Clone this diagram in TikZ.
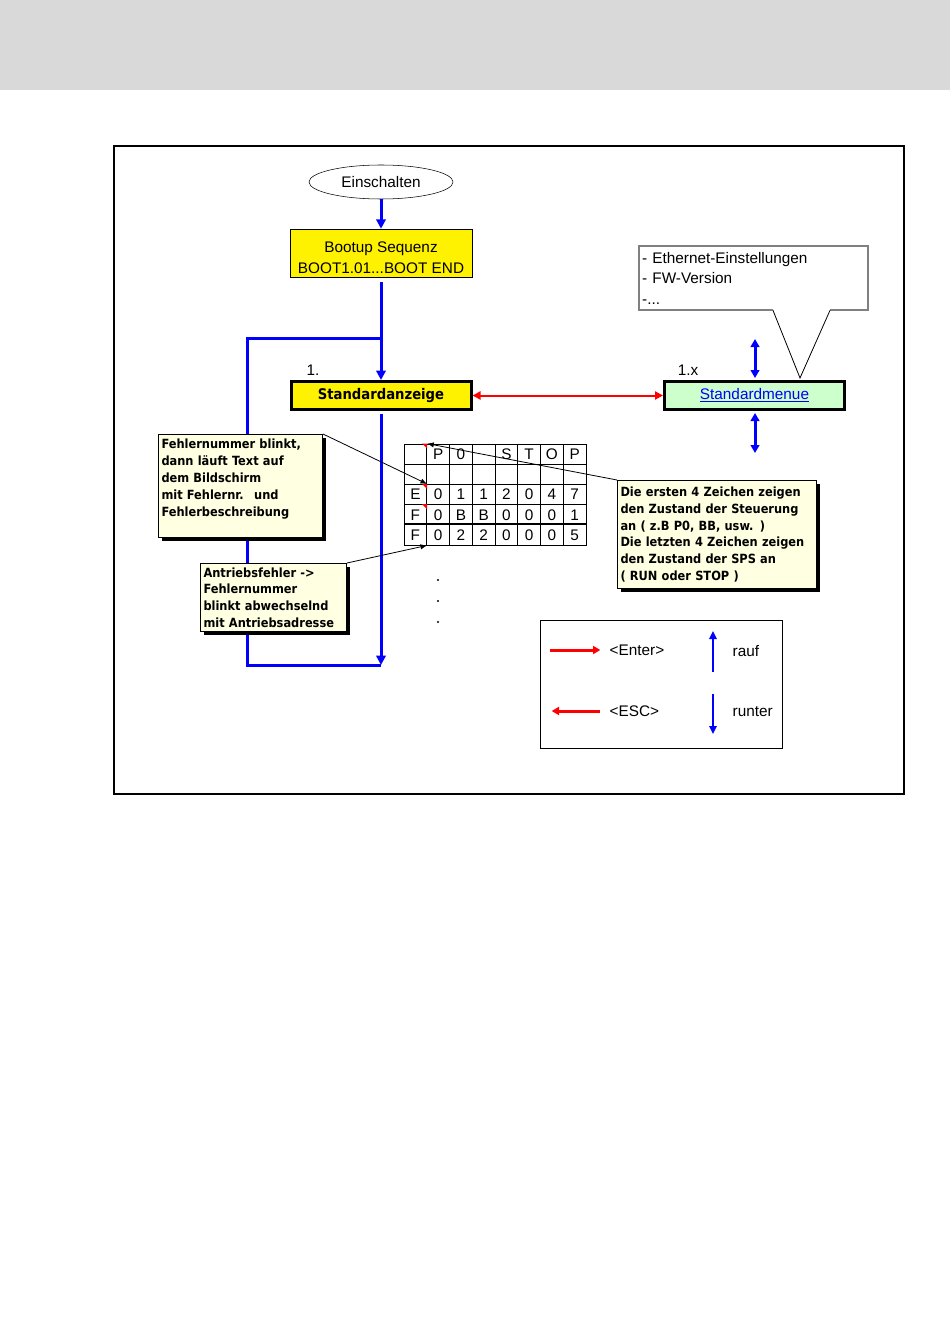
\documentclass[tikz,border=0pt]{standalone}
\usepackage{fontspec}
\setmainfont{Liberation Sans}
\newfontfamily\notefont{DejaVu Sans Condensed}
\usetikzlibrary{arrows.meta,shapes.geometric,shadows}
\definecolor{band}{RGB}{217,217,217}
\definecolor{noteyellow}{RGB}{255,255,225}
\definecolor{menugreen}{RGB}{204,255,204}

\begin{document}
\begin{tikzpicture}[x=0.75pt,y=-0.75pt,
  font=\fontsize{11.5}{13.8}\selectfont,
  flow/.style={blue,line width=2.25pt},
  flowarrow/.style={flow,-{Triangle[length=7pt,width=7pt]}},
  updown/.style={blue,line width=2.25pt,{Triangle[length=6pt,width=6.5pt]}-{Triangle[length=6pt,width=6.5pt]}},
  redarrow/.style={red,line width=1.5pt,{Triangle[length=6pt,width=6pt]}-{Triangle[length=6pt,width=6pt]}},
  statebox/.style={draw,line width=2.25pt,minimum width=135pt,minimum height=21pt,inner sep=0pt},
  note/.style={draw,fill=noteyellow,line width=0.75pt,anchor=north west,align=left,inner sep=2.25pt,
    font=\notefont\bfseries\fontsize{9.5}{12.6}\selectfont,
    drop shadow={shadow xshift=2.25pt,shadow yshift=-2.25pt,fill=black,opacity=1}},
  pointer/.style={black,line width=0.6pt,-{Latex[length=5pt,width=4pt]}},
  cell/.style={draw,line width=0.6pt,minimum width=17.06pt,minimum height=15.15pt,inner sep=0pt,text height=8.2pt,text depth=0pt},
  keyred/.style={red,line width=2.25pt,-{Triangle[length=5.5pt,width=6pt]}},
  keyblue/.style={blue,line width=1.5pt,-{Triangle[length=6pt,width=5.5pt]}}]
\useasboundingbox (0,0) rectangle (950,1344);
\fill[band] (0,0) rectangle (950,90);
\draw[line width=1.1pt] (114,146) rectangle (904,794);

\node[ellipse,draw,minimum width=108pt,minimum height=25.5pt,inner sep=0pt] (on) at (381,182) {Einschalten};
\node[draw,fill=yellow,minimum width=136.5pt,minimum height=36pt,inner sep=0pt] (boot) at (381,253) {};
\node[align=center,inner sep=0pt,font=\fontsize{11.5}{15.75}\selectfont] (boottext) at (381,258) {Bootup Sequenz\\BOOT1.01...BOOT END};
\node[statebox,fill=yellow,font=\notefont\bfseries\fontsize{11}{13}\selectfont] (anz) at (381,395.5) {Standardanzeige};
\node[statebox,fill=menugreen] (menu) at (754.5,395.5) {{\color{blue}\underline{Standardmenue}}};
\node (n1) at (313,370) {1.};
\node (n1x) at (688,370) {1.x};

\coordinate (ltop) at (247,338);
\coordinate (lbot) at (247,665);
\draw[flowarrow] (on.south) -- (boot.north);
\draw[flow] (ltop -| anz.north) -- (ltop) -- (lbot) -- (lbot -| anz.south);
\draw[flowarrow] ([yshift=-3.75pt]boot.south) -- (anz.north);
\draw[flowarrow] ([yshift=-2pt]anz.south) -- (anz.south |- lbot);
\draw[redarrow] (anz.east) -- (menu.west);

\coordinate (mup) at (755,339);
\coordinate (mdn) at (755,453);
\draw[updown] (mup) -- ([yshift=1.5pt]menu.north -| mup);
\draw[updown] (mdn) -- ([yshift=-1.5pt]menu.south -| mdn);

\node[minimum width=171.75pt,minimum height=48pt,inner sep=2.25pt,text width=167pt,align=left,
  font=\fontsize{11.5}{15.4}\selectfont] (info) at (753.5,278) {- Ethernet-Einstellungen\\- FW-Version\\-...};
\coordinate (tip) at (800,378);
\draw[gray,line width=1.5pt] ([xshift=14.6pt]info.south) -- (info.south west) -- (info.north west)
  -- (info.north east) -- (info.south east) -- ([xshift=57.4pt]info.south);
\draw[line width=0.6pt] ([xshift=14.6pt]info.south) -- (tip) -- ([xshift=57.4pt]info.south);

\foreach \t [count=\c] in {{},P,0,{},S,T,O,P}
  \node[cell] (c-1-\c) at ({404+22.75*(\c-0.5)},454.1) {\t};
\foreach \c in {1,...,8}
  \node[cell] (c-2-\c) at ({404+22.75*(\c-0.5)},474.3) {};
\foreach \t [count=\c] in {E,0,1,1,2,0,4,7}
  \node[cell] (c-3-\c) at ({404+22.75*(\c-0.5)},494.5) {\t};
\foreach \t [count=\c] in {F,0,B,B,0,0,0,1}
  \node[cell] (c-4-\c) at ({404+22.75*(\c-0.5)},514.7) {\t};
\foreach \t [count=\c] in {F,0,2,2,0,0,0,5}
  \node[cell] (c-5-\c) at ({404+22.75*(\c-0.5)},534.9) {\t};
\draw[line width=1.5pt] (c-5-1.north west) -- (c-5-8.north east);
\foreach \r in {1,3,4}
  \fill[red] (c-\r-1.north east) -- ++(-5,0) -- ++(5,5) -- cycle;
\foreach \y in {580,601,622}
  \fill (438,\y) circle (0.9pt);

\node[note,text width=118.5pt,minimum height=77.25pt] (fehler) at (158,434)
  {Fehlernummer blinkt,\\dann läuft Text auf\\dem Bildschirm\\mit Fehlernr.~ und\\Fehlerbeschreibung\\\mbox{}};
\node[note,text width=105pt,minimum height=51pt] (antr) at (200,563)
  {Antriebsfehler ->\\Fehlernummer\\blinkt abwechselnd\\mit Antriebsadresse};
\node[note,text width=144.75pt,minimum height=81pt] (ersten) at (617,480)
  {Die ersten 4 Zeichen zeigen\\den Zustand der Steuerung\\an ( z.B P0, BB, usw. )\\Die letzten 4 Zeichen zeigen\\den Zustand der SPS an\\( RUN oder STOP )\\[3pt]};
\draw[pointer] (fehler.north east) -- (c-3-1.north east);
\draw[pointer] (ersten.north west) -- (c-1-1.north east);
\draw[pointer] (antr.north east) -- (c-5-1.south east);

\node[draw,line width=0.75pt,minimum width=181.5pt,minimum height=96pt] (legend) at (661,684) {};
\node[anchor=west] (enter) at (605,650) {<Enter>};
\node[anchor=west] (esc) at (605,711) {<ESC>};
\node[anchor=west] (rauf) at (728,651) {rauf};
\node[anchor=west] (runter) at (728,712) {runter};
\draw[keyred] ([xshift=-41pt]enter.west) -- ([xshift=-3.5pt]enter.west);
\draw[keyred] ([xshift=-3.5pt]esc.west) -- ([xshift=-40pt]esc.west);
\draw[keyblue] ([xshift=-11.25pt,yshift=-15.75pt]rauf.west) -- ([xshift=-11.25pt,yshift=15pt]rauf.west);
\draw[keyblue] ([xshift=-11.25pt,yshift=13.5pt]runter.west) -- ([xshift=-11.25pt,yshift=-16.5pt]runter.west);
\end{tikzpicture}
\end{document}
